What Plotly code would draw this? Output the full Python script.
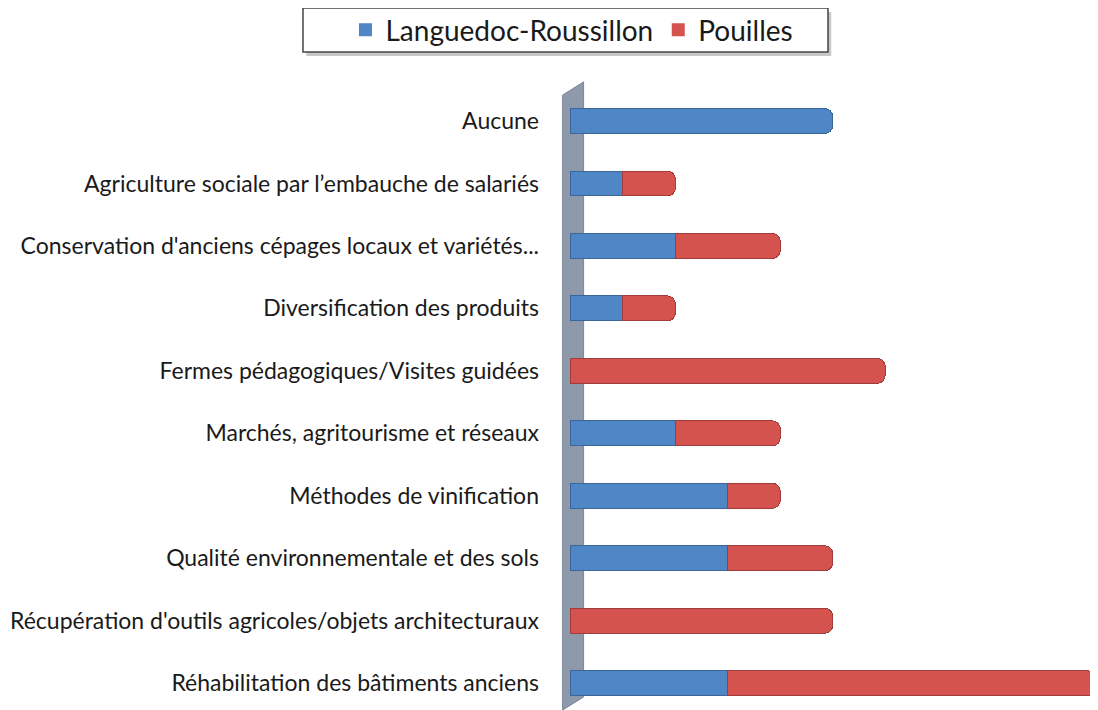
import plotly.graph_objects as go

# ── Data ────────────────────────────────────────────────────────────────────
CATEGORIES = [
    "Aucune",
    "Agriculture sociale par l’embauche de salariés",
    "Conservation d'anciens cépages locaux et variétés...",
    "Diversification des produits",
    "Fermes pédagogiques/Visites guidées",
    "Marchés, agritourisme et réseaux",
    "Méthodes de vinification",
    "Qualité environnementale et des sols",
    "Récupération d'outils agricoles/objets architecturaux",
    "Réhabilitation des bâtiments anciens",
]
LANGUEDOC = [5, 1, 2, 1, 0, 2, 3, 3, 0, 3]
POUILLES  = [0, 1, 2, 1, 6, 2, 1, 2, 5, 7]

BLUE = "#4F86C6"
RED  = "#D5534F"
WALL = "#8E9AAB"
FONT = "Lato, Open Sans, sans-serif"


def _nz(vals):
    # zero-length segments would still draw an outline
    return [v if v else None for v in vals]


fig = go.Figure()
for name, vals, col, edge in [("Languedoc-Roussillon", LANGUEDOC, BLUE, "#3A6699"),
                              ("Pouilles", POUILLES, RED, "#A03D3A")]:
    fig.add_trace(go.Bar(
        y=CATEGORIES, x=_nz(vals), orientation="h", name=name,
        marker=dict(color=col, line=dict(color=edge, width=1)),
        showlegend=False,
    ))
    # square legend swatch
    fig.add_trace(go.Scatter(
        x=[None], y=[None], mode="markers", name=name,
        marker=dict(symbol="square", size=13, color=col),
    ))

# grey 3D wall behind the category axis
fig.add_shape(
    type="path", xref="x", yref="paper", layer="below",
    path="M -0.15 0.976 L 0.25 0.997 L 0.25 0.0206 L -0.15 0 Z",
    fillcolor=WALL, line=dict(color="#7A8696", width=1),
)

# legend frame with a soft shadow
fig.add_shape(type="rect", xref="paper", yref="paper", layer="below",
              x0=-0.474, x1=0.507, y0=1.038, y1=1.108,
              fillcolor="#C8C8C8", line=dict(width=0))
fig.add_shape(type="rect", xref="paper", yref="paper", layer="below",
              x0=-0.4804, x1=0.5009, y0=1.0444, y1=1.1143,
              fillcolor="white", line=dict(color="#444444", width=1.5))

fig.update_layout(
    barmode="stack",
    bargap=0.6,
    barcornerradius=8,
    width=1090, height=702,
    paper_bgcolor="white", plot_bgcolor="white",
    font=dict(family=FONT, color="#1a1a1a", size=23),
    margin=dict(l=552, r=3, t=72, b=0, autoexpand=False),
    xaxis=dict(range=[-0.2, 10], visible=False, showgrid=False,
               zeroline=False, automargin=False),
    yaxis=dict(range=[9.43, -0.657], showgrid=False, zeroline=False,
               showline=False, ticks="", ticklabelstandoff=20, automargin=False,
               tickfont=dict(size=23, family=FONT)),
    legend=dict(
        orientation="h", xref="container", yref="container",
        x=0.5174, xanchor="center", y=0.9687, yanchor="middle",
        bgcolor="rgba(0,0,0,0)", borderwidth=0,
        font=dict(size=28, family=FONT), traceorder="normal",
        itemwidth=30,
    ),
    showlegend=True,
)

fig.write_html("out.html")
